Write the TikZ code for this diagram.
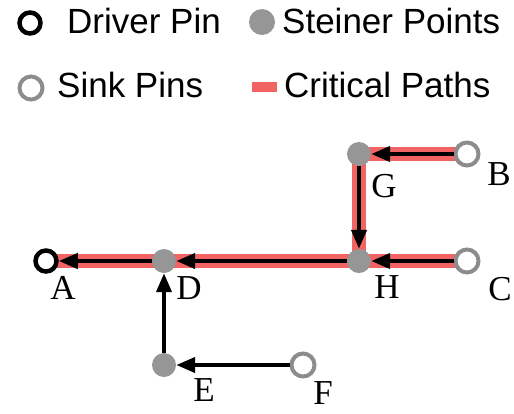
\documentclass[tikz,border=0pt]{standalone}
\usepackage{fontspec}
\setmainfont{Liberation Serif}
\newfontfamily\legendfont{Liberation Sans}
\usetikzlibrary{arrows.meta,backgrounds}
\definecolor{stgray}{RGB}{150,150,150}
\definecolor{skgray}{RGB}{140,140,140}
\definecolor{critred}{RGB}{242,100,100}
\begin{document}
\begin{tikzpicture}[x=1pt,y=-1pt,
  driver/.style={circle,draw=black,line width=4.5pt,fill=white,minimum size=21pt,inner sep=0pt},
  sink/.style={circle,draw=skgray,line width=4pt,fill=white,minimum size=23pt,inner sep=0pt},
  steiner/.style={circle,fill=stgray,minimum size=24pt,inner sep=0pt},
  lbl/.style={font=\fontsize{35}{40}\selectfont,inner sep=0pt},
  legtxt/.style={font=\legendfont\fontsize{35}{40}\selectfont,inner sep=0pt,anchor=base west},
  edgearrow/.style={line width=4pt,-{Triangle[length=19pt,width=15pt]}},
  crit/.style={line width=14pt,draw=critred}]
\useasboundingbox (0,0) rectangle (514,413);
% legend
\node[driver] (ldrv) at (30,23) {};
\node[legtxt] (tdrv) at (67,33) {Driver Pin};
\node[steiner,minimum size=26pt] (lst) at (262,22) {};
\node[legtxt] (tst) at (282,33) {Steiner Points};
\node[sink] (lsk) at (31,88) {};
\node[legtxt] (tsk) at (57,97) {Sink Pins};
\node[fill=critred,minimum width=25pt,minimum height=10pt,inner sep=0pt] (lcr) at (264.5,87) {};
\node[legtxt] (tcr) at (284,97) {Critical Paths};
% tree nodes
\node[driver] (A) at (46,261) {};
\node[steiner] (D) at (164,261) {};
\node[steiner] (H) at (359,261) {};
\node[sink] (C) at (467,261) {};
\node[steiner] (G) at (359,154) {};
\node[sink] (B) at (467,154) {};
\node[steiner] (E) at (164,365) {};
\node[sink] (F) at (303,365) {};
% critical paths
\begin{scope}[on background layer]
\draw[crit] (A.center) -- (C.center);
\draw[crit] (H.center) -- (G.center) -- (B.center);
\end{scope}
% edges
\draw[edgearrow] (D) -- (A);
\draw[edgearrow] (H) -- (D);
\draw[edgearrow] (C) -- (H);
\draw[edgearrow] (G) -- (H);
\draw[edgearrow] (B) -- (G);
\draw[edgearrow] (E) -- (D);
\draw[edgearrow] (F) -- (E);
% labels
\node[lbl] (la) at (63,288) {A};
\node[lbl] (ld) at (189,288) {D};
\node[lbl] (lh) at (387,287) {H};
\node[lbl] (lc) at (500,289) {C};
\node[lbl] (lg) at (384,186) {G};
\node[lbl] (lb) at (499,174) {B};
\node[lbl] (le) at (204,390) {E};
\node[lbl] (lf) at (323,393) {F};
\end{tikzpicture}
\end{document}
